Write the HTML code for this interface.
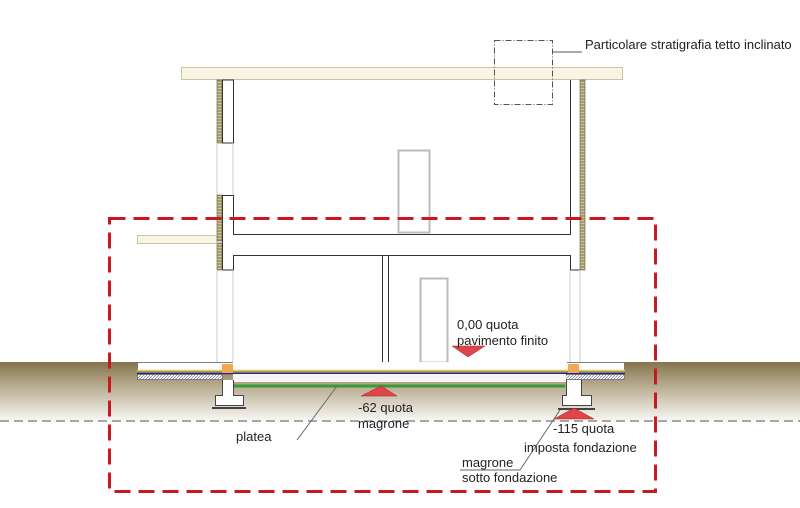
<!DOCTYPE html>
<html><head><style>
html,body{margin:0;padding:0;background:#fff}
svg{display:block}
text{font-family:"Liberation Sans",sans-serif;fill:#222}
</style></head><body>
<svg width="800" height="508" viewBox="0 0 800 508" xmlns="http://www.w3.org/2000/svg">
<defs>
<linearGradient id="g" x1="0" y1="0" x2="0" y2="1">
<stop offset="0" stop-color="#85744c"/>
<stop offset="0.35" stop-color="#b3a78a"/>
<stop offset="1" stop-color="#ffffff"/>
</linearGradient>
<pattern id="h" width="3" height="3" patternUnits="userSpaceOnUse">
<rect width="3" height="3" fill="#fff"/><path d="M0 3L3 0" stroke="#8888aa" stroke-width="0.8"/>
</pattern>
<pattern id="ins" width="3" height="3" patternUnits="userSpaceOnUse">
<rect width="3" height="3" fill="#a99e6a"/><path d="M0 1.5H3" stroke="#d8d09a" stroke-width="0.8"/>
</pattern>
</defs>
<rect x="0" y="362" width="800" height="62" fill="url(#g)"/>
<line x1="0" y1="421" x2="800" y2="421" stroke="#555" stroke-width="1" stroke-dasharray="9,5"/>
<rect x="222" y="80" width="358" height="282" fill="#fff"/>
<rect x="181.5" y="67.5" width="441" height="12" fill="#f8f5e2" stroke="#c9c3a3"/>
<rect x="217" y="80" width="5" height="63" fill="url(#ins)" stroke="#555" stroke-width="0.6"/>
<rect x="222.5" y="80" width="11" height="63" fill="#fff" stroke="#333"/>
<line x1="217" y1="143" x2="217" y2="195" stroke="#ccc"/>
<line x1="233" y1="143" x2="233" y2="195" stroke="#ccc"/>
<rect x="217" y="195" width="5" height="46" fill="url(#ins)" stroke="#555" stroke-width="0.6"/>
<rect x="217" y="243" width="5" height="27" fill="url(#ins)" stroke="#555" stroke-width="0.6"/>
<path d="M222.5 270V195.5H233.5V234.5H570.5V80" fill="none" stroke="#333"/>
<path d="M222.5 270H233.5V255.5H570.5V270H580.5" fill="none" stroke="#333"/>
<rect x="580" y="80" width="5" height="190" fill="url(#ins)" stroke="#555" stroke-width="0.6"/>
<rect x="137.5" y="235.5" width="79" height="8" fill="#f8f5e2" stroke="#c9c3a3"/>
<line x1="217" y1="270" x2="217" y2="362" stroke="#ccc"/>
<line x1="233" y1="270" x2="233" y2="362" stroke="#ccc"/>
<line x1="570" y1="270" x2="570" y2="362" stroke="#ccc"/>
<line x1="580" y1="270" x2="580" y2="362" stroke="#ccc"/>
<line x1="382.5" y1="256" x2="382.5" y2="362" stroke="#333"/>
<line x1="388.5" y1="256" x2="388.5" y2="362" stroke="#333"/>
<rect x="398.5" y="150.5" width="31" height="82" fill="#fff" stroke="#bbb" stroke-width="2"/>
<rect x="420.5" y="278.5" width="27" height="84" fill="#fff" stroke="#bbb" stroke-width="2"/>
<rect x="494.5" y="40.5" width="58" height="64" fill="none" stroke="#555" stroke-dasharray="6,2,1,2"/>
<line x1="553" y1="52" x2="582" y2="52" stroke="#555"/>
<text x="585" y="49" font-size="13">Particolare stratigrafia tetto inclinato</text>
<rect x="137.5" y="362.5" width="487" height="8" fill="#fff" stroke="#555" stroke-width="0.6"/>
<rect x="233" y="362" width="334" height="8" fill="#fff"/>
<line x1="137" y1="370.5" x2="625" y2="370.5" stroke="#e8c84a" stroke-width="1.5"/>
<line x1="137" y1="373.5" x2="625" y2="373.5" stroke="#2a2a8a" stroke-width="1.5"/>
<rect x="137.5" y="374.5" width="85" height="5" fill="url(#h)" stroke="#555" stroke-width="0.6"/>
<rect x="565.5" y="374.5" width="59" height="5" fill="url(#h)" stroke="#555" stroke-width="0.6"/>
<rect x="233" y="374" width="333" height="8" fill="#fff" opacity="0.9"/>
<line x1="234" y1="386" x2="565" y2="386" stroke="#3a9a3a" stroke-width="3"/>
<rect x="222" y="364" width="11" height="9" fill="#f2a850"/>
<rect x="568" y="364" width="11" height="9" fill="#f2a850"/>
<path d="M222.5 380V395.5H215.5V405.5H243.5V395.5H233.5V380" fill="#fff" stroke="#444"/>
<line x1="212" y1="408" x2="246" y2="408" stroke="#444" stroke-width="2"/>
<path d="M566.5 380V395.5H562.5V405.5H591.5V395.5H581.5V380" fill="#fff" stroke="#444"/>
<line x1="558" y1="409" x2="595" y2="409" stroke="#444" stroke-width="2"/>
<polygon points="452,346 485,346 468,357" fill="#e0454a" stroke="#a02020" stroke-width="0.5"/>
<polygon points="361,396 397,396 381,386" fill="#e0454a" stroke="#a02020" stroke-width="0.5"/>
<polygon points="554,419 594,419 574,408" fill="#e0454a" stroke="#a02020" stroke-width="0.5"/>
<line x1="337" y1="386" x2="297" y2="440" stroke="#666"/>
<line x1="560" y1="410" x2="520" y2="470" stroke="#666"/>
<line x1="460" y1="470" x2="520" y2="470" stroke="#666"/>
<text x="457" y="329" font-size="13">0,00 quota</text>
<text x="457" y="345" font-size="13">pavimento finito</text>
<text x="358" y="412" font-size="13">-62 quota</text>
<text x="358" y="428" font-size="13">magrone</text>
<text x="553" y="433" font-size="13">-115 quota</text>
<text x="524" y="452" font-size="13">imposta fondazione</text>
<text x="462" y="467" font-size="13">magrone</text>
<text x="462" y="482" font-size="13">sotto fondazione</text>
<text x="236" y="441" font-size="13">platea</text>
<rect x="109.5" y="218.5" width="546" height="273" fill="none" stroke="#c41a20" stroke-width="3" stroke-dasharray="16,8"/>
</svg>
</body></html>
